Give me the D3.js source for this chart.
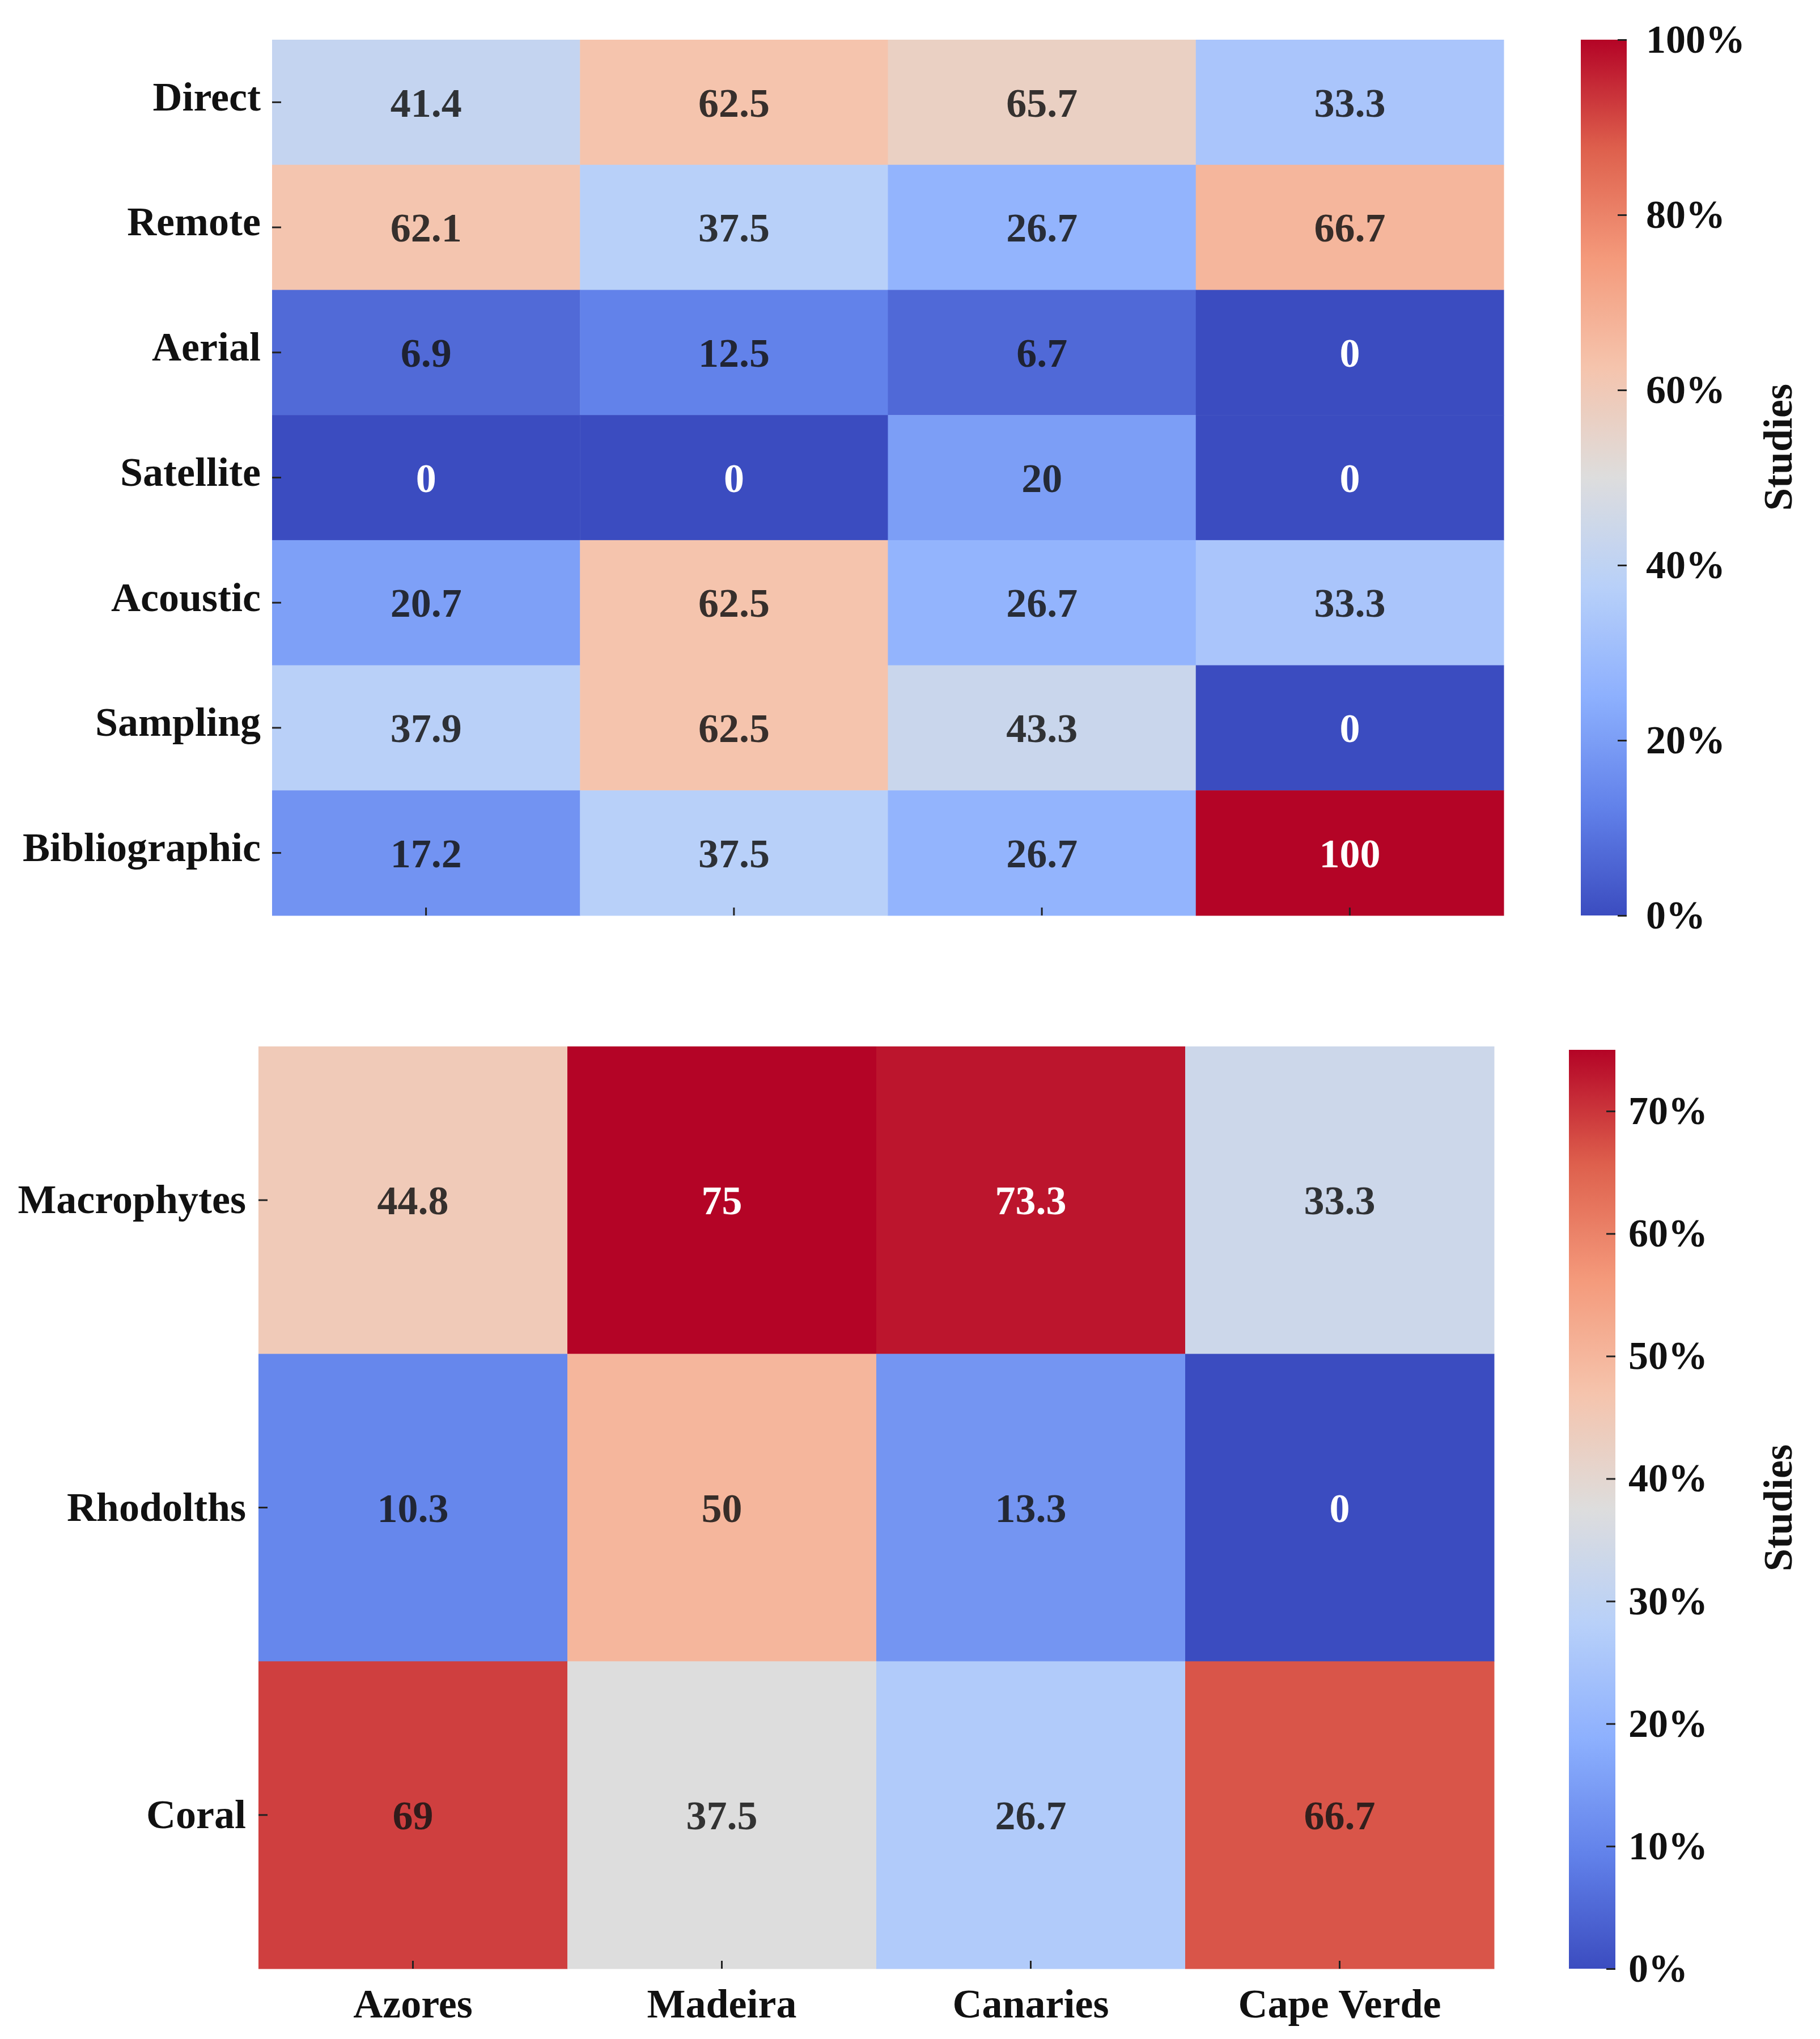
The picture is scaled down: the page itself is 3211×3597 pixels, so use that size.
<!DOCTYPE html>
<html>
<head>
  <meta charset="utf-8">
  <title>Study methods and habitats by archipelago</title>
  <style>
    body { margin: 0; background: #fff; }
    text { font-family: "Liberation Serif", "Times New Roman", serif; font-weight: bold; }
    .tick line { stroke: #222; stroke-width: 3px; }
  </style>
</head>
<body>
  <svg id="chart" width="3211" height="3597"></svg>

  <script src="https://d3js.org/d3.v7.min.js"></script>
  <script>
    // Categories
    const regions = ["Azores", "Madeira", "Canaries", "Cape Verde"];
    const methods = ["Direct", "Remote", "Aerial", "Satellite", "Acoustic", "Sampling", "Bibliographic"];
    const habitats = ["Macrophytes", "Rhodolths", "Coral"];

    // Top panel: numbers printed in the cells (% of studies)
    const methodShown = [
      [41.4, 62.5, 65.7, 33.3],
      [62.1, 37.5, 26.7, 66.7],
      [6.9, 12.5, 6.7, 0],
      [0, 0, 20, 0],
      [20.7, 62.5, 26.7, 33.3],
      [37.9, 62.5, 43.3, 0],
      [17.2, 37.5, 26.7, 100]
    ];
    // Top panel: values the cell colours correspond to (Canaries/Direct is shaded as ~56.7)
    const methodShade = [
      [41.4, 62.5, 56.7, 33.3],
      [62.1, 37.5, 26.7, 66.7],
      [6.9, 12.5, 6.7, 0],
      [0, 0, 20, 0],
      [20.7, 62.5, 26.7, 33.3],
      [37.9, 62.5, 43.3, 0],
      [17.2, 37.5, 26.7, 100]
    ];
    const methodTicks = [0, 20, 40, 60, 80, 100];

    // Bottom panel
    const habitatValues = [
      [44.8, 75, 73.3, 33.3],
      [10.3, 50, 13.3, 0],
      [69, 37.5, 26.7, 66.7]
    ];
    const habitatTicks = [0, 10, 20, 30, 40, 50, 60, 70];

    // matplotlib "coolwarm" colour ramp
    const coolwarmStops = ["#3b4cc0", "#6282ea", "#8db0fe", "#b8d0f9", "#dddddd",
                           "#f5c4ad", "#f49a7b", "#de604d", "#b40426"];
    const coolwarm = d3.scaleLinear()
      .domain(d3.range(coolwarmStops.length).map(i => i / (coolwarmStops.length - 1)))
      .range(coolwarmStops)
      .interpolate(d3.interpolateRgb)
      .clamp(true);

    const svg = d3.select("#chart");

    function luminance(c) {
      const rgb = d3.rgb(c);
      const lin = v => { v /= 255; return v <= 0.03928 ? v / 12.92 : Math.pow((v + 0.055) / 1.055, 2.4); };
      return 0.2126 * lin(rgb.r) + 0.7152 * lin(rgb.g) + 0.0722 * lin(rgb.b);
    }

    function drawHeatmap(cfg) {
      const g = svg.append("g");
      const x = d3.scaleBand().domain(regions).range([cfg.left, cfg.right]);
      const y = d3.scaleBand().domain(cfg.rows).range([cfg.top, cfg.bottom]);
      const colour = v => coolwarm(v / cfg.max);

      const cells = [];
      cfg.rows.forEach((r, i) => regions.forEach((c, j) => {
        cells.push({ row: r, col: c, shade: cfg.shade[i][j], shown: cfg.shown[i][j] });
      }));

      g.selectAll(".cell")
        .data(cells)
        .enter().append("rect")
        .attr("class", "cell")
        .attr("x", d => x(d.col))
        .attr("y", d => y(d.row))
        .attr("width", x.bandwidth() + 0.5)
        .attr("height", y.bandwidth() + 0.5)
        .attr("fill", d => colour(d.shade));

      g.selectAll(".annot")
        .data(cells)
        .enter().append("text")
        .attr("class", "annot")
        .attr("x", d => x(d.col) + x.bandwidth() / 2)
        .attr("y", d => y(d.row) + y.bandwidth() / 2)
        .attr("dy", "0.35em")
        .attr("text-anchor", "middle")
        .style("font-size", "72px")
        .attr("fill", d => {
          const f = colour(d.shade);
          return luminance(f) < 0.15 ? "#ffffff" : d3.interpolateRgb(f, "#151515")(0.85);
        })
        .text(d => String(d.shown));

      // Row labels
      const yAxis = g.append("g")
        .attr("transform", `translate(${cfg.left},0)`)
        .call(d3.axisLeft(y).tickSize(-16).tickPadding(cfg.rowPad));
      yAxis.select(".domain").remove();
      yAxis.selectAll("text")
        .attr("dy", cfg.rowDy)
        .style("font-size", "72px")
        .attr("fill", "#111");

      // Column ticks / labels
      const xAxis = g.append("g")
        .attr("transform", `translate(0,${cfg.bottom})`)
        .call(d3.axisBottom(x).tickSize(-14).tickPadding(35)
          .tickFormat(cfg.showColumns ? d => d : () => ""));
      xAxis.select(".domain").remove();
      xAxis.selectAll("text")
        .style("font-size", "72px")
        .attr("fill", "#111");

      // Colour bar
      const cb = cfg.cbar;
      const gradId = "grad" + cfg.id;
      const grad = svg.append("defs").append("linearGradient")
        .attr("id", gradId)
        .attr("x1", 0).attr("y1", 1).attr("x2", 0).attr("y2", 0);
      grad.selectAll("stop")
        .data(d3.range(0, 1.0001, 0.025))
        .enter().append("stop")
        .attr("offset", d => d)
        .attr("stop-color", d => coolwarm(d));

      g.append("rect")
        .attr("x", cb.left)
        .attr("y", cfg.cbarTop)
        .attr("width", cb.width)
        .attr("height", cfg.cbarBottom - cfg.cbarTop)
        .attr("fill", `url(#${gradId})`);

      const cy = d3.scaleLinear().domain([0, cfg.max]).range([cfg.cbarBottom, cfg.cbarTop]);
      const cAxis = g.append("g")
        .attr("transform", `translate(${cb.left + cb.width},0)`)
        .call(d3.axisRight(cy).tickValues(cfg.ticks).tickSize(-16)
          .tickPadding(cb.pad).tickFormat(d => d + "%"));
      cAxis.select(".domain").remove();
      cAxis.selectAll("text")
        .style("font-size", "70px")
        .attr("fill", "#111");

      g.append("text")
        .attr("transform", `translate(3161,${cfg.labelY}) rotate(-90)`)
        .attr("text-anchor", "middle")
        .style("font-size", "72px")
        .attr("fill", "#111")
        .text("Studies");
    }

    drawHeatmap({
      id: "top",
      rows: methods,
      shown: methodShown,
      shade: methodShade,
      max: 100,
      ticks: methodTicks,
      left: 480, right: 2653, top: 70, bottom: 1615,
      rowPad: 20, rowDy: "0.2em",
      showColumns: false,
      cbar: { left: 2789, width: 81, pad: 34 },
      cbarTop: 70, cbarBottom: 1615,
      labelY: 789
    });

    drawHeatmap({
      id: "bottom",
      rows: habitats,
      shown: habitatValues,
      shade: habitatValues,
      max: 75,
      ticks: habitatTicks,
      left: 456, right: 2636, top: 1846, bottom: 3473,
      rowPad: 22, rowDy: "0.32em",
      showColumns: true,
      cbar: { left: 2768, width: 82, pad: 23 },
      cbarTop: 1852, cbarBottom: 3473,
      labelY: 2660
    });
  </script>
</body>
</html>
